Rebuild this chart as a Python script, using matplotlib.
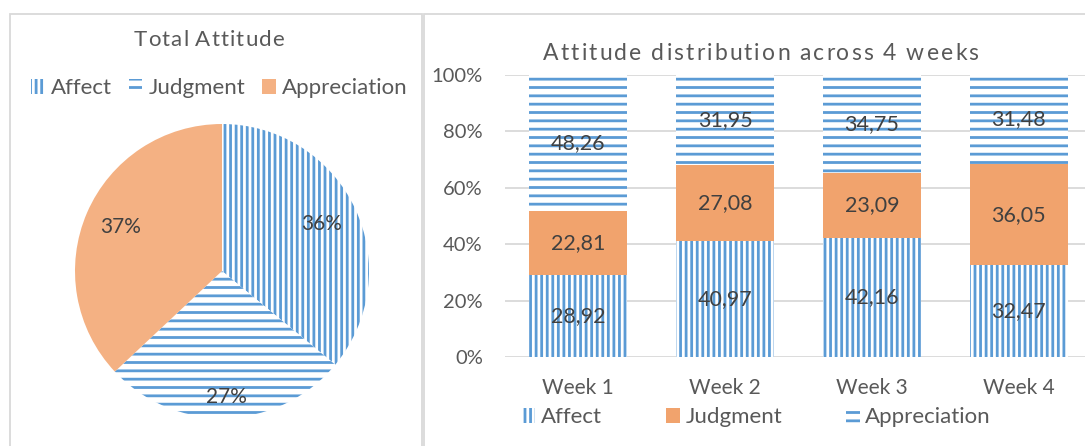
import matplotlib
matplotlib.use('Agg')
import matplotlib.pyplot as plt
from matplotlib.patches import Rectangle, Patch
from matplotlib.font_manager import findfont, FontProperties, get_font
import numpy as np

# ---------------- data ----------------
weeks = ['Week 1', 'Week 2', 'Week 3', 'Week 4']
affect = [28.92, 40.97, 42.16, 32.47]
judgment = [22.81, 27.08, 23.09, 36.05]
appreciation = [48.26, 31.95, 34.75, 31.48]

pie_labels = ['Affect', 'Judgment', 'Appreciation']
pie_values = [36, 27, 37]

y_ticks = [0, 20, 40, 60, 80, 100]
y_ticklabels = ['0%', '20%', '40%', '60%', '80%', '100%']

# ---------------- style ----------------
BLUE = '#5B9BD5'
ORANGE_PIE = '#F4B183'
ORANGE_BAR = '#F1A36D'
TEXT = '#595959'
LABEL = '#404040'
GRID = '#D9D9D9'
FAMILY = 'Lato'

plt.rcParams['font.family'] = [FAMILY, 'DejaVu Sans']
plt.rcParams['hatch.color'] = BLUE
plt.rcParams['hatch.linewidth'] = 2.0

W, H = 1085, 446
fig = plt.figure(figsize=(W / 100, H / 100), dpi=100)


def fx(px):
    return px / W


def fy(py):
    return 1 - py / H


def spaced_text(xc, ybase, s, size, target_w):
    """Draw letter-spaced text centred at xc (px) on baseline ybase (px)."""
    try:
        font = get_font(findfont(FontProperties(family=FAMILY)))
        font.set_size(size, 100)
        advs, lsbs, wids = [], [], []
        for c in s:
            g = font.load_char(ord(c))
            advs.append(g.linearHoriAdvance / 65536)
            lsbs.append(g.horiBearingX / 64)
            wids.append(g.width / 64)
        # sanity-check units against the renderer's own measurement
        rend = fig.canvas.get_renderer()
        t = fig.text(0, 0, s, fontsize=size)
        measured = t.get_window_extent(rend).width
        t.remove()
        est = sum(advs[:-1]) + lsbs[-1] + wids[-1] - lsbs[0]
        k = measured / est if est > 0 else 1.0
        advs = [a * k for a in advs]
        lsbs = [l * k for l in lsbs]
        natural = sum(advs)
        extra = (target_w - natural) / (len(s) - 1)
        x = xc - target_w / 2
        for c, a, l in zip(s, advs, lsbs):
            if c != ' ':
                fig.text(fx(x + l), fy(ybase), c, ha='left', va='baseline',
                         fontsize=size, color=TEXT)
            x += a + extra
    except Exception:
        fig.text(fx(xc), fy(ybase), s, ha='center', va='baseline',
                 fontsize=size, color=TEXT)


# panel borders
fig.add_artist(Rectangle((fx(10), fy(470)), fx(412), (470 - 14) / H,
                         transform=fig.transFigure, fill=False,
                         edgecolor=GRID, lw=1.3))
fig.add_artist(Rectangle((fx(424), fy(470)), fx(700), (470 - 14) / H,
                         transform=fig.transFigure, fill=False,
                         edgecolor=GRID, lw=1.3))

# ---------------- pie ----------------
cx, cy, r = 222, 271, 147
ax1 = fig.add_axes([fx(cx - r), fy(cy + r), 2 * r / W, 2 * r / H])
wedges, texts, autotexts = ax1.pie(
    pie_values, startangle=90, counterclock=False,
    colors=['white', 'white', ORANGE_PIE], hatch=['|||', '--', ''],
    autopct='%.0f%%', pctdistance=0.75, radius=1,
    textprops=dict(fontsize=15, color=LABEL))
px_, py_ = autotexts[1].get_position()
autotexts[1].set_position((px_ * 0.86 / 0.75, py_ * 0.86 / 0.75))
ax1.set_xlim(-1, 1)
ax1.set_ylim(-1, 1)

spaced_text(208, 46, 'Total Attitude', 16, 150)

pie_handles = [Patch(facecolor='white', hatch='|||'),
               Patch(facecolor='white', hatch='--'),
               Patch(facecolor=ORANGE_PIE)]
fig.legend(pie_handles, pie_labels, loc='center',
           bbox_to_anchor=(fx(219.5), fy(88)), ncol=3, frameon=False,
           fontsize=16, labelcolor=TEXT, handlelength=0.6,
           handleheight=0.65, handletextpad=0.3, columnspacing=0.75)

# ---------------- stacked bars ----------------
ax2 = fig.add_axes([fx(505), fy(357), fx(1092 - 505), (357 - 75) / H])
x = np.arange(len(weeks))
bw = 0.667
aff = np.array(affect)
jud = np.array(judgment)
app = np.array(appreciation)
b1 = ax2.bar(x, aff, bw, color='white', hatch='|||', label='Affect')
b2 = ax2.bar(x, jud, bw, bottom=aff, color=ORANGE_BAR, label='Judgment')
b3 = ax2.bar(x, app, bw, bottom=aff + jud, color='white', hatch='--',
             label='Appreciation')

for b, vals in ((b1, affect), (b2, judgment), (b3, appreciation)):
    ax2.bar_label(b, labels=[f'{v:.2f}'.replace('.', ',') for v in vals],
                  label_type='center', fontsize=15.5, color=LABEL)

ax2.set_xlim(-0.5, 3.5)
ax2.set_ylim(0, 100)
ax2.set_yticks(y_ticks)
ax2.set_yticklabels(y_ticklabels)
ax2.set_xticks(x)
ax2.set_xticklabels(weeks)
ax2.tick_params(axis='y', length=0, pad=16, labelsize=14.5, labelcolor=TEXT)
ax2.tick_params(axis='x', length=0, pad=15, labelsize=15, labelcolor=TEXT)
ax2.yaxis.grid(True, color=GRID, lw=1.3)
ax2.set_axisbelow(True)
for s in ax2.spines.values():
    s.set_visible(False)

spaced_text(760, 60, 'Attitude distribution across 4 weeks', 16.5, 435)

fig.legend([b1, b2, b3], ['Affect', 'Judgment', 'Appreciation'],
           loc='center', bbox_to_anchor=(fx(756.5), fy(417)), ncol=3,
           frameon=False, fontsize=16, labelcolor=TEXT, handlelength=0.6,
           handleheight=0.65, handletextpad=0.25, columnspacing=2.9)

fig.savefig('out.png', dpi=100)
